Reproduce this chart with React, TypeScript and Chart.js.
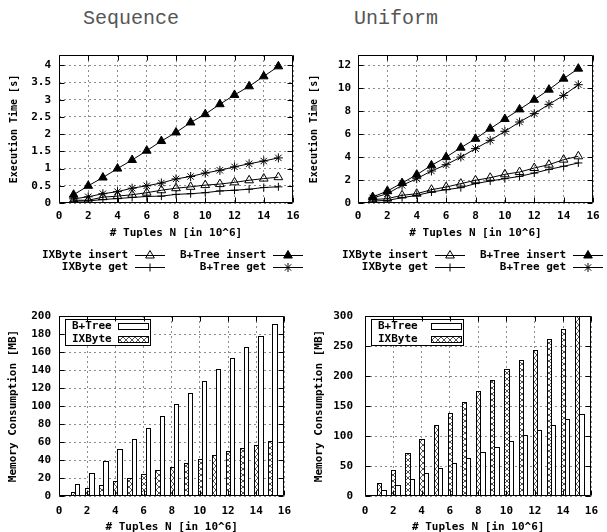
import React, { useEffect, useRef } from 'react';
import { Chart, registerables } from 'chart.js';

Chart.register(...registerables);

// ---------- data ----------
const N = [1, 2, 3, 4, 5, 6, 7, 8, 9, 10, 11, 12, 13, 14, 15];

// Sequence – execution time [s]
const seqIXInsert = [0.08, 0.08, 0.17, 0.2, 0.24, 0.3, 0.37, 0.43, 0.47, 0.52, 0.55, 0.6, 0.66, 0.71, 0.75];
const seqBTInsert = [0.24, 0.5, 0.74, 1.0, 1.25, 1.52, 1.8, 2.05, 2.34, 2.58, 2.87, 3.14, 3.39, 3.68, 3.97];
const seqIXGet = [0.05, 0.06, 0.1, 0.13, 0.16, 0.19, 0.2, 0.25, 0.27, 0.3, 0.35, 0.37, 0.4, 0.45, 0.47];
const seqBTGet = [0.12, 0.18, 0.27, 0.33, 0.43, 0.5, 0.58, 0.7, 0.77, 0.87, 0.95, 1.05, 1.14, 1.22, 1.31];

// Uniform – execution time [s]
const uniIXInsert = [0.3, 0.38, 0.67, 0.81, 1.16, 1.39, 1.69, 1.98, 2.2, 2.5, 2.7, 3.05, 3.34, 3.78, 4.07];
const uniBTInsert = [0.52, 1.05, 1.74, 2.47, 3.28, 4.0, 4.82, 5.6, 6.48, 7.32, 8.16, 9.0, 9.88, 10.84, 11.71];
const uniIXGet = [0.17, 0.23, 0.46, 0.67, 0.96, 1.16, 1.34, 1.69, 1.92, 2.12, 2.32, 2.61, 2.93, 3.2, 3.49];
const uniBTGet = [0.44, 0.81, 1.54, 2.12, 2.79, 3.34, 4.0, 4.74, 5.46, 6.25, 7.06, 7.79, 8.6, 9.38, 10.31];

// Memory consumption [MB]
const seqMemBT = [13, 26, 39, 52, 63, 76, 89, 102, 115, 128, 141, 153, 166, 178, 191];
const seqMemIX = [4.5, 8.5, 12, 16.5, 20.5, 25, 29, 32.5, 36.5, 41, 45.5, 49.5, 53, 57, 61.5];
const uniMemBT = [10, 18, 28, 38, 46, 55, 64, 73, 82, 92, 101, 110, 119, 128, 137];
const uniMemIX = [21, 43, 71, 95, 119, 139, 157, 175, 193, 211, 226, 244, 262, 279, 300];

const LABEL_IX_INSERT = 'IXByte insert';
const LABEL_BT_INSERT = 'B+Tree insert';
const LABEL_IX_GET = 'IXByte get';
const LABEL_BT_GET = 'B+Tree get';
const LABEL_BT = 'B+Tree';
const LABEL_IX = 'IXByte';

const X_TITLE = '# Tuples N [in 10^6]';
const Y_TIME = 'Execution Time [s]';
const Y_MEM = 'Memory Consumption [MB]';

// ---------- styles ----------
const MONO = "'DejaVu Sans Mono', monospace";
const GRID = { color: '#8c8c8c', lineWidth: 1, drawTicks: false };
const GRID_DASH = [2, 3];

function drawMarker(ctx: CanvasRenderingContext2D, style: string, x: number, y: number, r: number, fill: string) {
  ctx.beginPath();
  if (style === 'triangle') {
    ctx.moveTo(x, y - r);
    ctx.lineTo(x + r * 0.866, y + r * 0.5);
    ctx.lineTo(x - r * 0.866, y + r * 0.5);
    ctx.closePath();
    if (fill && fill !== 'transparent') {
      ctx.fillStyle = fill;
      ctx.fill();
    }
    ctx.stroke();
  } else if (style === 'cross') {
    ctx.moveTo(x - r, y); ctx.lineTo(x + r, y);
    ctx.moveTo(x, y - r); ctx.lineTo(x, y + r);
    ctx.stroke();
  } else if (style === 'star') {
    const d = r * 0.7071;
    ctx.moveTo(x - r, y); ctx.lineTo(x + r, y);
    ctx.moveTo(x, y - r); ctx.lineTo(x, y + r);
    ctx.moveTo(x - d, y - d); ctx.lineTo(x + d, y + d);
    ctx.moveTo(x - d, y + d); ctx.lineTo(x + d, y - d);
    ctx.stroke();
  }
}

const framePlugin = {
  id: 'frame',
  afterDraw(chart: any) {
    const { ctx, chartArea: a, scales } = chart;
    const xs = scales.x, ys = scales.y;
    ctx.save();
    ctx.strokeStyle = '#000';
    ctx.lineWidth = 1;
    const L = Math.round(a.left) + 0.5, R = Math.round(a.right) - 0.5;
    const T = Math.round(a.top) + 0.5, B = Math.round(a.bottom) - 0.5;
    ctx.beginPath();
    ctx.rect(L, T, R - L, B - T);
    const tl = 5;
    xs.ticks.forEach((t: any) => {
      const px = Math.round(xs.getPixelForValue(t.value)) + 0.5;
      ctx.moveTo(px, B); ctx.lineTo(px, B - tl);
      ctx.moveTo(px, T); ctx.lineTo(px, T + tl);
    });
    ys.ticks.forEach((t: any) => {
      const py = Math.round(ys.getPixelForValue(t.value)) + 0.5;
      ctx.moveTo(L, py); ctx.lineTo(L + tl, py);
      ctx.moveTo(R, py); ctx.lineTo(R - tl, py);
    });
    ctx.stroke();
    ctx.restore();
  },
};

const lineKeyPlugin = {
  id: 'lineKey',
  afterDraw(chart: any) {
    const { ctx, chartArea } = chart;
    const R = chartArea.right, B = chartArea.bottom;
    ctx.save();
    ctx.font = `bold 11px ${MONO}`;
    ctx.textAlign = 'right';
    ctx.textBaseline = 'middle';
    ctx.strokeStyle = '#000';
    ctx.lineWidth = 1;
    chart.data.datasets.forEach((ds: any, i: number) => {
      const col = i % 2, row = Math.floor(i / 2);
      const sx0 = col === 0 ? R - 158 : R - 20;
      const sx1 = sx0 + 30;
      const y = Math.round(B + 52 + row * 12);
      ctx.fillStyle = '#000';
      ctx.fillText(ds.label, sx0 - 7, y);
      ctx.beginPath();
      ctx.moveTo(sx0, y + 0.5);
      ctx.lineTo(sx1, y + 0.5);
      ctx.stroke();
      drawMarker(ctx, ds.pointStyle, (sx0 + sx1) / 2, y + 0.5, ds.pointRadius, ds.pointBackgroundColor);
    });
    ctx.restore();
  },
};

const barKeyPlugin = {
  id: 'barKey',
  afterDatasetsDraw(chart: any, _args: any, opts: any) {
    const { ctx, chartArea } = chart;
    const bx = Math.round(chartArea.left) + 6, by = Math.round(chartArea.top) + 3;
    const bw = opts.width || 86, bh = 26;
    ctx.save();
    ctx.fillStyle = '#fff';
    ctx.fillRect(bx, by, bw, bh);
    ctx.strokeStyle = '#000';
    ctx.lineWidth = 1;
    ctx.strokeRect(bx + 0.5, by + 0.5, bw, bh);
    ctx.font = `bold 11px ${MONO}`;
    ctx.textAlign = 'left';
    ctx.textBaseline = 'middle';
    const order: number[] = opts.order || [1, 0];
    order.forEach((di, row) => {
      const ds = chart.data.datasets[di];
      const y = by + 7 + row * 13;
      ctx.fillStyle = '#000';
      ctx.fillText(ds.label, bx + 7, y);
      const sx = bx + bw - 32, sw = 30, sy = y - 3, sh = 6;
      ctx.fillStyle = ds.backgroundColor;
      ctx.fillRect(sx, sy, sw, sh);
      ctx.strokeRect(sx + 0.5, sy + 0.5, sw, sh);
    });
    ctx.restore();
  },
};

// shifts each bar pair so the first bar is centred on its x value, and snaps bars to whole pixels
const barShiftPlugin = {
  id: 'barShift',
  afterDatasetsUpdate(chart: any, _args: any, opts: any) {
    const xs = chart.scales.x;
    const shift = xs.getPixelForValue(opts.units || 0) - xs.getPixelForValue(0);
    chart.data.datasets.forEach((_ds: any, i: number) => {
      const meta = chart.getDatasetMeta(i);
      meta.data.forEach((el: any) => {
        const cx = el.x + shift;
        const w = el.width;
        const left = Math.round(cx - w / 2);
        const right = Math.round(cx + w / 2) + 1;
        el.x = (left + right) / 2;
        el.width = right - left;
        el.y = Math.round(el.y);
        el.base = Math.round(el.base);
      });
    });
  },
};

function toPoints(vals: number[]) {
  return N.map((n, i) => ({ x: n, y: vals[i] }));
}

function fixedWidth(w: number) {
  return (s: any) => { s.width = w; };
}
function fixedHeight(h: number) {
  return (s: any) => { s.height = h; };
}

interface AxisOpts {
  yMax: number;
  yStep: number;
  yTitle: string;
  yTitleSize: number;
  yWidth: number;
  yTitlePad: number;
  yTickPad: number;
  xHeight: number;
  xTickPad: number;
}

function scalesFor(o: AxisOpts) {
  const tickFont = { family: MONO, weight: 'bold' as const, size: 11 };
  return {
    x: {
      type: 'linear' as const,
      min: 0,
      max: 16,
      offset: false,
      afterFit: fixedHeight(o.xHeight),
      grid: { ...GRID, offset: false },
      border: { display: false, dash: GRID_DASH },
      ticks: { stepSize: 2, padding: o.xTickPad, color: '#000', font: tickFont, maxRotation: 0, includeBounds: false, callback: (v: any) => String(v) },
      title: { display: true, text: X_TITLE, color: '#000', font: tickFont, padding: { top: 0, bottom: 0 } },
    },
    y: {
      type: 'linear' as const,
      min: 0,
      max: o.yMax,
      afterFit: fixedWidth(o.yWidth),
      grid: { ...GRID },
      border: { display: false, dash: GRID_DASH },
      ticks: { stepSize: o.yStep, padding: o.yTickPad, color: '#000', font: tickFont, includeBounds: false, callback: (v: any) => String(v) },
      title: { display: true, text: o.yTitle, color: '#000', font: { ...tickFont, size: o.yTitleSize }, padding: { top: o.yTitlePad, bottom: 0 } },
    },
  };
}

function lineDatasets(ixIns: number[], btIns: number[], ixGet: number[], btGet: number[]) {
  const base = { borderColor: '#000', borderWidth: 1, pointBorderColor: '#000', pointBorderWidth: 1, tension: 0, showLine: true, pointHoverRadius: 5 };
  return [
    { ...base, label: LABEL_IX_INSERT, data: toPoints(ixIns), pointStyle: 'triangle', pointRadius: 5, pointBackgroundColor: 'transparent', backgroundColor: 'transparent' },
    { ...base, label: LABEL_BT_INSERT, data: toPoints(btIns), pointStyle: 'triangle', pointRadius: 5, pointBackgroundColor: '#000', backgroundColor: '#000' },
    { ...base, label: LABEL_IX_GET, data: toPoints(ixGet), pointStyle: 'cross', pointRadius: 4, pointBackgroundColor: 'transparent', backgroundColor: 'transparent' },
    { ...base, label: LABEL_BT_GET, data: toPoints(btGet), pointStyle: 'star', pointRadius: 4.5, pointBackgroundColor: 'transparent', backgroundColor: 'transparent' },
  ];
}

function lineConfig(ds: any[], axis: AxisOpts, padding: any) {
  return {
    type: 'line',
    data: { datasets: ds },
    options: {
      responsive: false,
      animation: false,
      layout: { padding },
      plugins: { legend: { display: false }, tooltip: { enabled: false }, title: { display: false } },
      scales: scalesFor(axis),
    },
    plugins: [framePlugin, lineKeyPlugin],
  };
}

function makeHatch(): CanvasPattern | string {
  const c = document.createElement('canvas');
  c.width = 6; c.height = 6;
  const g = c.getContext('2d');
  if (!g) return '#888';
  g.fillStyle = '#fff';
  g.fillRect(0, 0, 6, 6);
  g.strokeStyle = '#555';
  g.lineWidth = 1;
  g.beginPath();
  g.moveTo(0, 0); g.lineTo(6, 6);
  g.moveTo(6, 0); g.lineTo(0, 6);
  g.stroke();
  return g.createPattern(c, 'repeat') || '#888';
}

function barConfig(ix: number[], bt: number[], axis: AxisOpts, padding: any, keyWidth: number) {
  const hatch = makeHatch();
  const base = { borderColor: '#000', borderWidth: 1, categoryPercentage: 0.6, barPercentage: 1.0, borderSkipped: false };
  return {
    type: 'bar',
    data: {
      datasets: [
        { ...base, label: LABEL_IX, data: toPoints(ix), backgroundColor: hatch },
        { ...base, label: LABEL_BT, data: toPoints(bt), backgroundColor: '#fff' },
      ],
    },
    options: {
      responsive: false,
      animation: false,
      layout: { padding },
      plugins: {
        legend: { display: false },
        tooltip: { enabled: false },
        barKey: { width: keyWidth, order: [1, 0] },
        barShift: { units: 0.15 },
      },
      scales: scalesFor(axis),
    },
    plugins: [barShiftPlugin, framePlugin, barKeyPlugin],
  };
}

function ChartBox({ left, top, width, height, make }: { left: number; top: number; width: number; height: number; make: () => any }) {
  const ref = useRef<HTMLCanvasElement | null>(null);
  useEffect(() => {
    if (!ref.current) return;
    const chart = new Chart(ref.current, make());
    return () => chart.destroy();
  }, []);
  return (
    <canvas
      ref={ref}
      width={width}
      height={height}
      style={{ position: 'absolute', left, top, width, height }}
    />
  );
}

const titleStyle: React.CSSProperties = {
  position: 'absolute',
  width: 200,
  textAlign: 'center',
  fontFamily: "'Liberation Mono', 'Courier New', monospace",
  fontSize: 20,
  lineHeight: '20px',
  color: '#555',
  top: 9,
};

export default function App() {
  return (
    <div style={{ position: 'absolute', left: 0, top: 0, width: 607, height: 532, background: '#fff', overflow: 'hidden' }}>
      <div style={{ ...titleStyle, left: 31 }}>Sequence</div>
      <div style={{ ...titleStyle, left: 296 }}>Uniform</div>
      <ChartBox
        left={0} top={0} width={310} height={280}
        make={() => lineConfig(
          lineDatasets(seqIXInsert, seqBTInsert, seqIXGet, seqBTGet),
          { yMax: 4.3, yStep: 0.5, yTitle: Y_TIME, yTitleSize: 10, yWidth: 59, yTitlePad: 8, yTickPad: 8, xHeight: 37, xTickPad: 7 },
          { left: 0, top: 55, right: 17, bottom: 40 },
        )}
      />
      <ChartBox
        left={300} top={0} width={307} height={280}
        make={() => lineConfig(
          lineDatasets(uniIXInsert, uniBTInsert, uniIXGet, uniBTGet),
          { yMax: 12.9, yStep: 2, yTitle: Y_TIME, yTitleSize: 10, yWidth: 58, yTitlePad: 8, yTickPad: 7, xHeight: 37, xTickPad: 7 },
          { left: 0, top: 55, right: 14, bottom: 40 },
        )}
      />
      <ChartBox
        left={0} top={280} width={300} height={256}
        make={() => barConfig(
          seqMemIX, seqMemBT,
          { yMax: 200, yStep: 20, yTitle: Y_MEM, yTitleSize: 11, yWidth: 59, yTitlePad: 7, yTickPad: 8, xHeight: 38, xTickPad: 9 },
          { left: 0, top: 36, right: 13, bottom: 2 },
          85,
        )}
      />
      <ChartBox
        left={300} top={280} width={307} height={256}
        make={() => barConfig(
          uniMemIX, uniMemBT,
          { yMax: 300, yStep: 50, yTitle: Y_MEM, yTitleSize: 11, yWidth: 65, yTitlePad: 13, yTickPad: 12, xHeight: 38, xTickPad: 9 },
          { left: 0, top: 36, right: 13, bottom: 2 },
          92,
        )}
      />
    </div>
  );
}
